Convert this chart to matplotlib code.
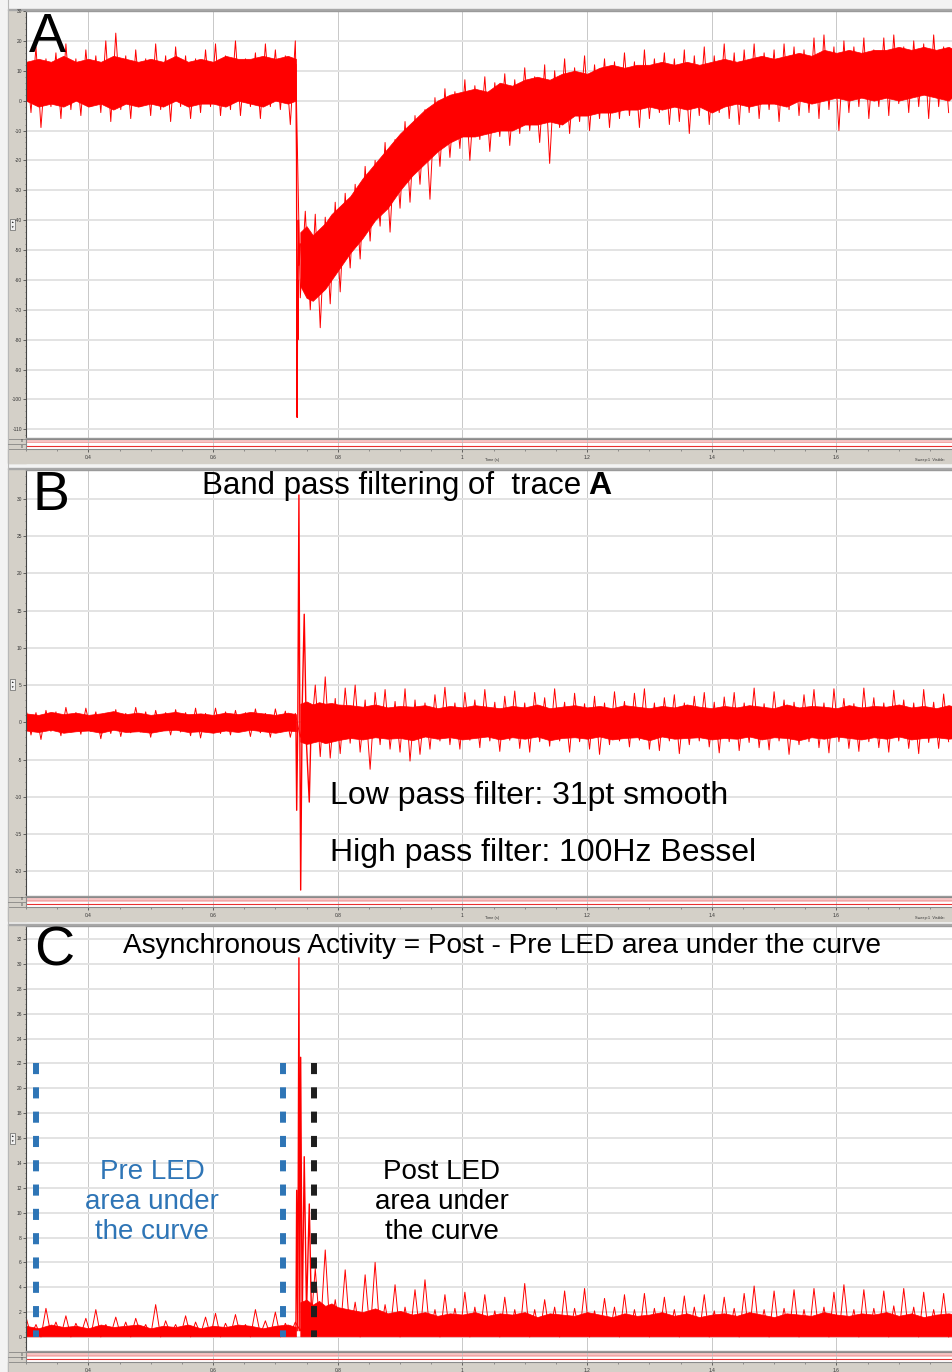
import numpy as np
import matplotlib.pyplot as plt
from matplotlib.patches import Rectangle
from matplotlib.ticker import AutoMinorLocator, MultipleLocator

plt.rcParams['font.family'] = ['Liberation Sans', 'DejaVu Sans']
plt.rcParams['lines.scale_dashes'] = False

# knots of the solid noise core (s)
t_pre = [0.30, 0.32, 0.34, 0.36, 0.38, 0.40, 0.42, 0.44, 0.46, 0.48, 0.50, 0.52,
         0.54, 0.56, 0.58, 0.60, 0.62, 0.64, 0.66, 0.68, 0.70, 0.72, 0.733]
t_post = [0.740, 0.750, 0.760, 0.770, 0.780, 0.790, 0.800,
          0.82, 0.84, 0.86, 0.88, 0.90, 0.92, 0.94, 0.96, 0.98, 1.00,
          1.02, 1.04, 1.06, 1.08, 1.10, 1.12, 1.14, 1.16, 1.18, 1.20,
          1.22, 1.24, 1.26, 1.28, 1.30, 1.32, 1.34, 1.36, 1.38, 1.40,
          1.42, 1.44, 1.46, 1.48, 1.50, 1.52, 1.54, 1.56, 1.58, 1.60,
          1.62, 1.64, 1.66, 1.68, 1.70, 1.72, 1.74, 1.76, 1.78, 1.79]
# peak-to-peak samples, one every 8 ms from 0.300 s
t_zz = np.round(0.3 + 0.008 * np.arange(186), 3)

# ---- A: raw trace (pA) ----
a_pre_hi = [13, 14, 13, 15, 13, 14, 13, 15, 14, 13, 14, 13, 15, 13, 14, 13, 15, 14, 14, 15, 14, 15, 14]
a_pre_lo = [0, -2, -1, -2, 0, -2, -1, -3, -1, -2, -1, -2, 0, -2, -1, -1, -2, 0, -1, -2, 0, -1, 0]
a_post_hi = [-44, -42, -45, -43, -41, -38, -36,
             -32, -26, -21, -16, -11, -7, -3, 0, 2, 3,
             4, 3, 6, 5, 7, 8, 7, 9, 10, 9,
             11, 12, 11, 12, 12, 13, 12, 13, 12, 13,
             14, 13, 14, 15, 14, 15, 16, 15, 17, 16,
             17, 16, 17, 17, 18, 17, 18, 17, 18, 17]
a_post_lo = [-62, -66, -67, -65, -63, -60, -57,
             -51, -46, -40, -36, -30, -25, -21, -17, -14, -12,
             -12, -11, -10, -10, -8, -8, -7, -8, -5, -5,
             -4, -4, -3, -3, -2, -3, -2, -3, -2, -4,
             -2, -1, -2, -1, -1, -2, 0, -1, 0, 1,
             0, 1, 0, 1, 0, 1, 2, 1, 0, 2]
a_zz = [15, -4, 18, -9, 14, -2, 16, -6, 19, -3,
        14, -5, 17, -2, 15, -4, 20, -7, 22.6, -3,
        15, -6, 17, -2, 14, -5, 19, -3, 15, -7,
        18, -2, 15, -6, 14, -4, 17, -2, 19, -5,
        15, -3, 20, -5, 14, -2, 16, -6, 19, -2,
        17, -3, 15, -8, 20, -66, -37, -70, -38, -76,
        -39, -68, -34, -64, -31, -56, -28, -53, -22, -47,
        -20, -42, -14, -44, -13, -36, -7, -34, -5, -28,
        -3, -33, 1, -22, 4, -19, 3, -16, 7, -20,
        5, -13, 8, -17, 6, -12, 9, -15, 7, -11,
        11, -10, 8, -14, 12, -21, 10, -9, 14, -11,
        11, -7, 15, -10, 12, -6, 14, -9, 13, -6,
        16, -5, 13, -9, 17, -6, 14, -4, 16, -8,
        14, -7, 17, -11, 15, -5, 18, -8, 15, -4,
        19, -6, 16, -8, 17, -4, 19, -6, 16, -3,
        17, -7, 19, -3, 18, -5, 17, -4, 21, -6,
        22, -3, 18, -10, 20, -4, 18, -2, 21, -6,
        17, -2, 21, -5, 22, -1, 18, -4, 20, -2,
        19, -6, 22, -2, 18, -4]
a_ev_t = [0.733, 0.7335, 0.734, 0.7345, 0.735, 0.7355, 0.736, 0.737, 0.738, 0.740]
a_ev_v = [12, -8, -20, -75, -106, -60, -80, -40, -55, -48]

# ---- B: band pass filtered (pA) ----
b_pre_hi = [1.2, 1.0, 1.4, 1.1, 1.3, 1.0, 1.2, 1.5, 1.1, 1.3, 1.0, 1.2, 1.4, 1.1, 1.2, 1.0,
            1.3, 1.1, 1.4, 1.2, 1.0, 1.3, 1.1]
b_pre_lo = [-1.1, -1.3, -1.0, -1.4, -1.2, -1.1, -1.4, -1.0, -1.3, -1.2, -1.4, -1.1, -1.0,
            -1.3, -1.2, -1.4, -1.1, -1.3, -1.0, -1.2, -1.4, -1.1, -1.2]
b_post_hi = [2.5, 2.8, 2.4, 2.7, 2.5, 2.6, 2.4,
             2.3, 2.1, 2.4, 2.0, 2.2, 2.1, 2.3, 1.9, 2.2, 2.0,
             2.3, 2.1, 1.9, 2.2, 2.0, 2.4, 1.9, 2.1, 2.3, 2.0,
             2.2, 1.9, 2.3, 2.1, 1.9, 2.2, 2.0, 2.4, 2.1, 1.9,
             2.2, 2.0, 2.3, 2.1, 1.9, 2.4, 2.0, 2.2, 2.1, 1.9,
             2.3, 2.0, 2.2, 2.1, 2.4, 2.0, 2.2, 1.9, 2.3, 2.1]
b_post_lo = [-2.6, -2.9, -2.7, -2.5, -2.8, -2.6, -2.4,
             -2.1, -2.3, -2.0, -2.2, -2.1, -2.4, -1.9, -2.2, -2.0, -2.3,
             -2.1, -1.9, -2.3, -2.0, -2.2, -1.9, -2.4, -2.1, -2.0, -2.2,
             -1.9, -2.3, -2.1, -2.0, -2.4, -1.9, -2.2, -2.1, -2.0, -2.3,
             -2.1, -2.2, -1.9, -2.3, -2.0, -2.1, -2.4, -2.0, -2.2, -1.9,
             -2.1, -2.3, -2.0, -2.2, -1.9, -2.3, -2.1, -2.0, -2.2, -2.1]
b_zz = [1.8, -1.7, 1.3, -2.3, 1.6, -1.2, 1.4, -1.8, 2.0, -1.3,
        1.3, -1.6, 1.9, -1.2, 1.4, -2.2, 1.2, -1.5, 1.7, -1.9,
        1.2, -1.4, 2.0, -1.3, 1.4, -2.0, 1.6, -1.2, 1.3, -1.7,
        1.7, -1.3, 1.3, -1.8, 1.9, -2.1, 1.2, -1.3, 1.9, -1.5,
        1.4, -1.7, 1.6, -1.2, 1.3, -1.9, 1.8, -1.4, 1.2, -2.0,
        1.8, -1.3, 1.5, -2.0, 1.2, -2.0, 2.0, -3.0, 5.0, -4.6,
        6.1, -4.8, 3.2, -4.2, 4.6, -2.8, 5.0, -4.0, 3.0, -6.3,
        4.0, -3.0, 4.4, -3.6, 2.8, -4.0, 4.5, -5.2, 3.0, -4.3,
        2.6, -3.6, 3.7, -2.5, 4.7, -3.0, 2.6, -3.6, 4.0, -2.4,
        3.0, -3.4, 4.4, -2.5, 2.7, -3.9, 3.5, -2.4, 4.2, -3.5,
        2.6, -4.0, 4.0, -2.6, 3.3, -3.2, 4.5, -2.5, 2.7, -4.0,
        3.9, -2.6, 2.5, -3.6, 3.5, -4.3, 2.6, -3.0, 4.1, -2.5,
        2.8, -3.3, 3.9, -2.4, 4.5, -3.6, 2.6, -3.8, 3.3, -2.5,
        3.7, -4.2, 2.6, -3.0, 3.5, -2.5, 4.0, -3.3, 2.7, -4.1,
        3.4, -2.6, 4.0, -3.8, 2.6, -2.7, 4.6, -3.4, 2.5, -3.7,
        4.1, -2.5, 3.0, -4.3, 2.7, -3.0, 3.7, -2.6, 4.4, -3.4,
        2.6, -4.1, 4.5, -2.6, 3.2, -3.5, 2.5, -3.9, 4.6, -2.6,
        3.3, -3.4, 2.6, -4.0, 4.3, -2.5, 3.0, -3.5, 2.6, -4.2,
        4.4, -2.7, 2.7, -3.5, 3.8, -2.6]
b_ev_t = [0.733, 0.7342, 0.736, 0.7378, 0.7392, 0.7406, 0.743, 0.7463, 0.750, 0.7544, 0.758]
b_ev_v = [0, -11.8, 0, 30.5, 0, -22.5, 2, 14.5, -3, -10.7, 2]

# ---- C: rectified trace (pA) ----
c_pre_hi = [0.9, 0.7, 1.0, 0.8, 0.9, 0.7, 1.0, 0.8, 0.9, 1.0, 0.7, 0.9, 0.8, 1.0, 0.7, 0.9,
            0.8, 1.0, 0.9, 0.7, 0.9, 1.0, 0.8]
c_post_hi = [2.8, 3.0, 2.6, 2.9, 2.5, 2.7, 2.4,
             2.2, 2.0, 2.3, 1.9, 2.1, 1.8, 2.0, 1.7, 1.9, 1.8,
             2.0, 1.7, 1.9, 1.8, 2.0, 1.6, 1.9, 1.8, 1.7, 2.0,
             1.8, 1.6, 1.9, 1.7, 1.8, 2.0, 1.7, 1.9, 1.6, 1.8,
             1.9, 1.7, 2.0, 1.8, 1.6, 1.9, 1.8, 1.7, 2.0, 1.8,
             1.7, 1.9, 1.8, 2.0, 1.7, 1.9, 1.6, 1.8, 1.9, 1.8]
c_zz = [1.6, 0.1, 1.0, 0.0, 2.3, 0.2, 1.2, 0.1, 1.7, 0.0,
        1.1, 0.2, 1.5, 0.1, 2.2, 0.0, 1.0, 0.2, 1.6, 0.1,
        1.2, 0.0, 1.5, 0.2, 1.0, 0.1, 2.6, 0.0, 1.3, 0.2,
        1.0, 0.1, 1.7, 0.0, 1.2, 0.2, 1.6, 0.1, 1.9, 0.0,
        1.1, 0.2, 1.8, 0.1, 1.0, 0.0, 2.2, 0.2, 1.3, 0.1,
        2.0, 0.0, 1.1, 0.2, 1.2, 0.5, 1.5, 0.3, 5.5, 0.2,
        7.0, 0.1, 3.0, 0.3, 5.4, 0.2, 2.8, 0.0, 5.0, 0.2,
        6.0, 0.1, 2.6, 0.3, 4.2, 0.0, 2.4, 0.2, 3.8, 0.1,
        4.6, 0.2, 2.2, 0.0, 3.4, 0.1, 2.3, 0.2, 3.6, 0.0,
        2.4, 0.1, 3.4, 0.2, 2.1, 0.0, 3.2, 0.1, 2.2, 0.2,
        4.3, 0.0, 2.2, 0.1, 3.0, 0.2, 2.4, 0.0, 3.7, 0.1,
        2.3, 0.2, 3.9, 0.0, 2.1, 0.1, 3.1, 0.2, 2.4, 0.0,
        3.4, 0.1, 2.2, 0.2, 3.5, 0.0, 2.3, 0.1, 3.2, 0.2,
        2.2, 0.0, 3.3, 0.1, 2.4, 0.2, 3.4, 0.0, 2.1, 0.1,
        3.2, 0.2, 2.3, 0.0, 3.5, 0.1, 4.1, 0.2, 2.2, 0.0,
        3.7, 0.1, 2.3, 0.2, 3.8, 0.0, 2.2, 0.1, 3.9, 0.2,
        2.4, 0.0, 3.6, 0.1, 4.2, 0.2, 2.2, 0.0, 3.8, 0.1,
        2.3, 0.2, 3.7, 0.0, 2.5, 0.1, 3.9, 0.2, 2.4, 0.0,
        3.6, 0.1, 2.2, 0.2, 3.5, 0.0]
c_ev_t = [0.733, 0.7342, 0.736, 0.7378, 0.7392, 0.7406, 0.743, 0.7463, 0.750, 0.7544, 0.758]
c_ev_v = [0.5, 11.8, 0.5, 30.5, 0.5, 22.5, 1.0, 14.5, 2.0, 10.7, 1.5]

# LED window markers in C (s) and their height (pA)
pre_marks = [0.316, 0.7127]
post_marks = [0.7622]
mark_top = 22

xt = [0.4, 0.6, 0.8, 1.0, 1.2, 1.4, 1.6]
xt_labels = ['0.4', '0.6', '0.8', '1', '1.2', '1.4', '1.6']

W, H = 953, 1372
X0, X1 = 0.3, 1.787
RED = '#ff0000'
GUTTER = '#d4d0c8'
BLUE = '#2e75b6'

fig = plt.figure(figsize=(W / 100, H / 100), dpi=100)
fig.patch.set_facecolor('#f3f3f3')


def box(x, y, w, h):
    return [x / W, 1 - (y + h) / H, w / W, h / H]


bg = fig.add_axes([0, 0, 1, 1], zorder=-5)
bg.set_xlim(0, W)
bg.set_ylim(H, 0)
bg.axis('off')
over = fig.add_axes([0, 0, 1, 1], zorder=10)
over.set_xlim(0, W)
over.set_ylim(H, 0)
over.axis('off')
over.patch.set_alpha(0)

bg.axvline(8, color='#b8b8b8', lw=0.8)


def panel(top, bot, ylim, yticks, icon_y, footer=True):
    h = bot - top
    bg.add_patch(Rectangle((8, top - 1), 18, h + 26, color=GUTTER))
    bg.add_patch(Rectangle((8, bot + 11), W - 8, 14, color=GUTTER))
    bg.add_patch(Rectangle((8, top - 2), W - 8, 1.2, color='#a8a8a8'))

    ax = fig.add_axes(box(26, top, W - 26, h))
    ax.set_xlim(X0, X1)
    ax.set_ylim(*ylim)
    ax.set_axisbelow(True)
    ax.set_yticks(yticks)
    ax.set_yticklabels([str(v) for v in yticks])
    ax.yaxis.set_minor_locator(AutoMinorLocator(5))
    ax.set_xticks(xt)
    ax.tick_params(axis='x', length=0, labelbottom=False)
    ax.tick_params(axis='y', which='major', direction='out', length=2, width=0.5,
                   pad=1, labelsize=3.5, colors='#333333')
    ax.tick_params(axis='y', which='minor', direction='out', length=1, width=0.4,
                   colors='#555555')
    ax.grid(axis='y', color='#e3e3e3', lw=1.4)
    ax.grid(axis='x', color='#c8c8c8', lw=0.7)
    ax.spines['right'].set_visible(False)
    ax.spines['left'].set_color('#444444')
    ax.spines['left'].set_linewidth(0.8)
    for s in ('top', 'bottom'):
        ax.spines[s].set_color('#9a9a9a')
        ax.spines[s].set_linewidth(1.0)

    st = fig.add_axes(box(26, bot + 1, W - 26, 10))
    st.set_xlim(X0, X1)
    st.set_ylim(0, 1)
    st.axhspan(0.55, 0.88, color='#f7c4c4', lw=0)
    st.axhline(0.72, color='#f09a9a', lw=0.5)
    st.axhline(0.3, color='#e83030', lw=0.8)
    st.set_yticks([])
    st.set_xticks(xt)
    st.set_xticklabels(xt_labels)
    st.xaxis.set_minor_locator(MultipleLocator(0.05))
    st.tick_params(axis='x', which='major', direction='out', length=2, width=0.5,
                   pad=2, labelsize=3.5, colors='#333333')
    st.tick_params(axis='x', which='minor', direction='out', length=1.2, width=0.4,
                   colors='#555555')
    st.grid(axis='x', color='#c8c8c8', lw=0.7)
    for s in st.spines.values():
        s.set_color('#8a8a8a')
        s.set_linewidth(0.8)
    st.spines['right'].set_visible(False)

    # little channel boxes in the gutter next to the strip
    bg.add_patch(Rectangle((8, bot + 1), 18, 10, fc=GUTTER, ec='#777777', lw=0.5))
    bg.plot([8, 26], [bot + 6, bot + 6], color='#777777', lw=0.5)
    bg.text(23, bot + 3.5, '0', fontsize=2.5, ha='right', va='center', color='#333333')
    bg.text(23, bot + 8.5, '0', fontsize=2.5, ha='right', va='center', color='#333333')

    if footer:
        bg.text(485, bot + 22, 'Time (s)', fontsize=2.8, va='center', color='#333333')
        bg.text(915, bot + 22, 'Sweep:1  Visible:', fontsize=2.8, va='center', color='#333333')

    # scroll arrows
    bg.add_patch(Rectangle((10, icon_y), 5, 11, fc='#f0f0f0', ec='#666666', lw=0.5))
    bg.text(12.5, icon_y + 3, '\u25b2', fontsize=2.5, ha='center', va='center', color='#222222')
    bg.text(12.5, icon_y + 8, '\u25bc', fontsize=2.5, ha='center', va='center', color='#222222')
    return ax


def trace(ax, pre_lo, pre_hi, post_lo, post_hi, zz, ev_t, ev_v):
    ax.fill_between(t_pre, pre_lo, pre_hi, color=RED, lw=0.5, ec=RED)
    ax.fill_between(t_post, post_lo, post_hi, color=RED, lw=0.5, ec=RED)
    ax.plot(t_zz, zz, color=RED, lw=0.7)
    ax.plot(ev_t, ev_v, color=RED, lw=1.0)


axA = panel(11, 438, (-112.9, 30.0), list(range(-110, 31, 10)), 219)
trace(axA, a_pre_lo, a_pre_hi, a_post_lo, a_post_hi, a_zz, a_ev_t, a_ev_v)

axB = panel(470, 896, (-23.3, 33.85), list(range(-20, 31, 5)), 679)
trace(axB, b_pre_lo, b_pre_hi, b_post_lo, b_post_hi, b_zz, b_ev_t, b_ev_v)

axC = panel(926, 1351, (-1.13, 33.06), list(range(0, 33, 2)), 1133, footer=False)
trace(axC, 0.05, c_pre_hi, 0.05, c_post_hi, c_zz, c_ev_t, c_ev_v)

for t in pre_marks:
    axC.plot([t, t], [mark_top, 0], color=BLUE, lw=4.3, dashes=(8, 9.5),
             solid_capstyle='butt', dash_capstyle='butt', zorder=5)
for t in post_marks:
    axC.plot([t, t], [mark_top, 0], color='#1e1e1e', lw=4.3, dashes=(8, 9.5),
             solid_capstyle='butt', dash_capstyle='butt', zorder=5)

# panel letters and annotations
over.text(29, 52, 'A', fontsize=40, va='baseline', ha='left')
over.text(33, 510, 'B', fontsize=40, va='baseline', ha='left')
over.text(34, 966, 'C', fontsize=40, va='baseline', ha='left')

over.text(202, 494, 'Band pass filtering of  trace', fontsize=22.5, va='baseline', ha='left')
over.text(588, 494, 'A', fontsize=23, fontweight='bold', va='baseline', ha='left')
over.text(330, 804, 'Low pass filter: 31pt smooth', fontsize=23, va='baseline', ha='left')
over.text(330, 861, 'High pass filter: 100Hz Bessel', fontsize=23, va='baseline', ha='left')
over.text(123, 953, 'Asynchronous Activity = Post - Pre LED area under the curve',
          fontsize=20.2, va='baseline', ha='left')
over.text(152, 1202, 'Pre LED\narea under\nthe curve', fontsize=20, color=BLUE,
          ha='center', va='center', linespacing=1.22)
over.text(442, 1202, 'Post LED\narea under\nthe curve', fontsize=20, color='black',
          ha='center', va='center', linespacing=1.22)

fig.savefig('out.png', dpi=100)
